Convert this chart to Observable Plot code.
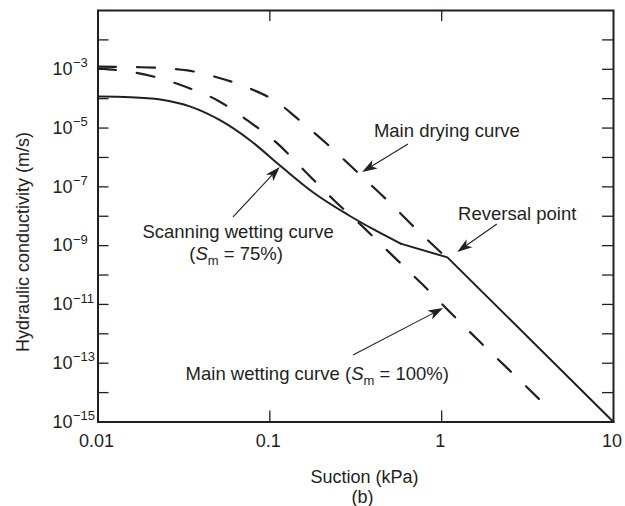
<!DOCTYPE html>
<html><head><meta charset="utf-8">
<script src="https://cdn.jsdelivr.net/npm/d3@7"></script>
<script src="https://cdn.jsdelivr.net/npm/@observablehq/plot@0.6"></script>
<style>body{margin:0;background:#fff} svg{display:block}</style>
</head><body><div id="chart"></div>
<script>
// Main drying curve (dashed) : suction (kPa) and log10 of K (m/s)
const dryingSuction = [0.01, 0.0177, 0.0332, 0.0497, 0.0741, 0.111, 0.145, 0.217, 0.320, 0.477, 0.695, 1.08];
const dryingLogK    = [-2.91, -2.93, -3.04, -3.28, -3.62, -4.13, -4.68, -5.56, -6.48, -7.43, -8.38, -9.44];

// Main wetting curve (dashed)
const wettingSuction = [0.01, 0.0161, 0.0332, 0.0497, 0.0741, 0.111, 0.159, 0.238, 0.351, 0.518, 0.764, 1.127, 1.64, 2.45, 4.03];
const wettingLogK    = [-2.98, -3.10, -3.62, -4.06, -4.74, -5.53, -6.45, -7.47, -8.38, -9.34, -10.29, -11.28, -12.23, -13.21, -14.44];

// Scanning wetting curve (solid), up to the reversal point
const scanningSuction = [0.01, 0.0155, 0.0231, 0.0345, 0.0516, 0.0773, 0.115, 0.179, 0.283, 0.402, 0.577];
const scanningLogK    = [-3.93, -3.95, -4.03, -4.27, -4.74, -5.43, -6.28, -7.19, -7.94, -8.45, -8.93];
// Straight solid part: kink, reversal point, then drying continuation to 10 kPa
const straightSuction = [0.577, 1.08, 10];
const straightLogK    = [-8.93, -9.40, -15];

// Axis ticks
const xTickValues = [0.01, 0.1, 1, 10];
const xTickLabels = ["0.01", "0.1", "1", "10"];
const xInnerTicks = [0.1, 1];
const yLabelExponents = [-3, -5, -7, -9, -11, -13, -15];
const yTickExponents = [-14, -13, -12, -11, -10, -9, -8, -7, -6, -5, -4, -3, -2];

// Annotation texts (centres) and arrows
const labelTexts   = ["Main drying curve", "Reversal point", "Scanning wetting curve", "(S_m = 75%)", "Main wetting curve (S_m = 100%)"];
const labelSuction = [1.08, 2.77, 0.0658, 0.064, 0.19];
const labelLogK    = [-5.09, -7.94, -8.55, -9.30, -13.35];

const arrowFromSuction = [0.641, 2.11, 0.0615, 0.307];
const arrowFromLogK    = [-5.56, -8.28, -8.04, -12.74];
const arrowToSuction   = [0.347, 1.24, 0.115, 1.026];
const arrowToLogK      = [-6.51, -9.23, -6.34, -11.14];

const ink = "#231f20";
const font = "'Liberation Sans', Arial, Helvetica, sans-serif";

const toRows = (s, k) => s.map((v, i) => ({s: v, K: 10 ** k[i]}));
const drying = toRows(dryingSuction, dryingLogK);
const wetting = toRows(wettingSuction, wettingLogK);
const scanning = toRows(scanningSuction, scanningLogK);
const straight = toRows(straightSuction, straightLogK);
const xTicks = xTickValues.map((v, i) => ({v, label: xTickLabels[i]}));
const yLabels = yLabelExponents.map(e => ({v: 10 ** e, e}));
const yTicks = yTickExponents.map(e => 10 ** e);

const marginLeft = 97.5, marginRight = 12, marginTop = 10, marginBottom = 84.5;
const W = 625, H = 506;
const frameW = W - marginLeft - marginRight, frameH = H - marginTop - marginBottom;
const tickLen = 11;

function annotations(index, scales) {
  const {x, y} = scales;
  const g = d3.create("svg:g");
  arrowFromSuction.forEach((_, i) => {
    const x1 = x(arrowFromSuction[i]), y1 = y(10 ** arrowFromLogK[i]);
    const x2 = x(arrowToSuction[i]), y2 = y(10 ** arrowToLogK[i]);
    const ang = Math.atan2(y2 - y1, x2 - x1);
    const ux = Math.cos(ang), uy = Math.sin(ang), px = -uy, py = ux;
    const L = 15, Wd = 5, N = 11;
    const bx = x2 - ux * L, by = y2 - uy * L;
    const nx = x2 - ux * N, ny = y2 - uy * N;
    g.append("line").attr("x1", x1).attr("y1", y1).attr("x2", nx).attr("y2", ny)
      .attr("stroke", ink).attr("stroke-width", 1.1);
    g.append("path").attr("fill", ink)
      .attr("d", `M${x2},${y2}L${bx + px * Wd},${by + py * Wd}L${nx},${ny}L${bx - px * Wd},${by - py * Wd}Z`);
  });
  labelTexts.forEach((t, i) => {
    const cx = x(labelSuction[i]), cy = y(10 ** labelLogK[i]);
    const text = g.append("text").attr("x", cx).attr("y", cy + 6.5)
      .attr("text-anchor", "middle").attr("fill", ink)
      .attr("font-family", font).attr("font-size", 18.5);
    const parts = t.split("S_m");
    if (parts.length === 1) { text.text(t); return; }
    text.append("tspan").text(parts[0]);
    text.append("tspan").attr("font-style", "italic").text("S");
    text.append("tspan").attr("font-size", 13).attr("dy", 5).text("m");
    text.append("tspan").attr("dy", -5).text(parts[1]);
  });
  return g.node();
}

const chart = Plot.plot({
  width: W, height: H,
  marginLeft, marginRight, marginTop, marginBottom,
  style: {fontFamily: font, fontSize: "18px", color: ink, background: "#fff"},
  x: {type: "log", domain: [0.01, 10], axis: null},
  y: {type: "log", domain: [1e-15, 1e-1], axis: null},
  marks: [
    // inward ticks
    Plot.tickY(yTicks, {y: d => d, stroke: ink, strokeWidth: 1.3, insetRight: frameW - tickLen}),
    Plot.tickY(yTicks, {y: d => d, stroke: ink, strokeWidth: 1.3, insetLeft: frameW - tickLen}),
    Plot.tickX(xInnerTicks, {x: d => d, stroke: ink, strokeWidth: 1.3, insetTop: frameH - tickLen}),
    Plot.tickX(xInnerTicks, {x: d => d, stroke: ink, strokeWidth: 1.3, insetBottom: frameH - tickLen}),
    // curves
    Plot.line(drying, {x: "s", y: "K", stroke: ink, strokeWidth: 2.2, strokeDasharray: "18,21", curve: "monotone-x"}),
    Plot.line(wetting, {x: "s", y: "K", stroke: ink, strokeWidth: 2.2, strokeDasharray: "18,21", curve: "monotone-x"}),
    Plot.line(scanning, {x: "s", y: "K", stroke: ink, strokeWidth: 2, curve: "monotone-x"}),
    Plot.line(straight, {x: "s", y: "K", stroke: ink, strokeWidth: 2, curve: "linear"}),
    Plot.frame({stroke: ink, strokeWidth: 2}),
    // x tick labels
    Plot.text(xTicks, {x: "v", text: "label", frameAnchor: "bottom", lineAnchor: "middle", dy: 19, dx: -1.5, fill: ink, fontSize: 18}),
    // y tick labels: base and exponent
    Plot.text(yLabels, {y: "v", text: () => "10", frameAnchor: "left", textAnchor: "start", lineAnchor: "middle", dx: -45.5, fill: ink, fontSize: 18}),
    Plot.text(yLabels, {y: "v", text: d => "\u2212" + (-d.e), frameAnchor: "left", textAnchor: "start", lineAnchor: "middle", dx: -25, dy: -6, fill: ink, fontSize: 13}),
    // axis titles
    Plot.text(["Hydraulic conductivity (m/s)"], {frameAnchor: "left", textAnchor: "middle", lineAnchor: "middle", rotate: -90, dx: -74.5, dy: 25.75, fill: ink, fontSize: 18}),
    Plot.text(["Suction (kPa)"], {frameAnchor: "bottom", lineAnchor: "middle", dx: 8.75, dy: 55.5, fill: ink, fontSize: 18}),
    Plot.text(["(b)"], {frameAnchor: "bottom", lineAnchor: "middle", dx: 6.75, dy: 75.5, fill: ink, fontSize: 18}),
    annotations
  ]
});
document.getElementById("chart").append(chart);
</script>
</body></html>
